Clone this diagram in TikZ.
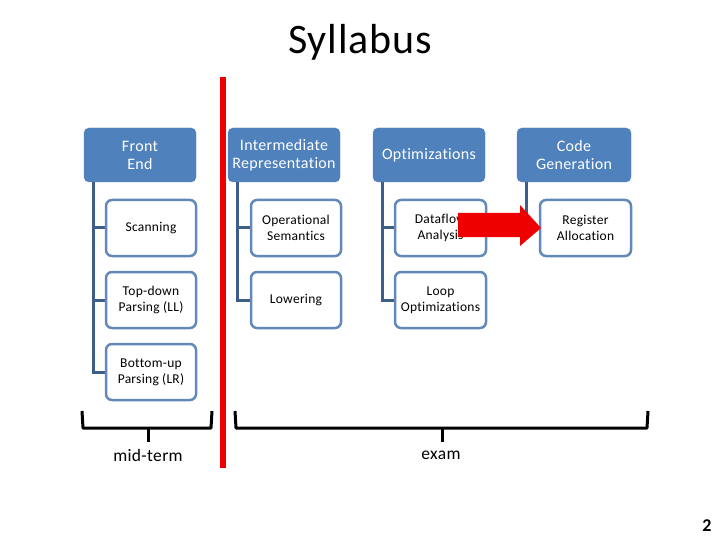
\documentclass[tikz,border=0pt]{standalone}
\usepackage{fontspec}
\setmainfont[Ligatures=NoCommon,LetterSpace=2]{Carlito}
\usetikzlibrary{calc}
\definecolor{hdrblue}{HTML}{4F81BD}
\definecolor{boxedge}{HTML}{6389BA}
\definecolor{linkblue}{HTML}{3E5D8A}
\definecolor{bigred}{HTML}{EE0000}
\tikzset{
  hdr/.style={draw=hdrblue, fill=hdrblue, rounded corners=5pt, minimum width=112pt, minimum height=54pt, text=white, align=center, font=\fontsize{16}{18}\selectfont, inner sep=1pt},
  child/.style={draw=boxedge, fill=white, line width=2.5pt, rounded corners=6pt, minimum width=90pt, minimum height=56pt, align=center, font=\fontsize{13.5}{16}\selectfont, inner sep=1pt},
  link/.style={draw=linkblue, line width=3pt},
  brace/.style={draw=black, line width=3pt},
  lbl/.style={font=\fontsize{17.5}{20}\selectfont}
}
\begin{document}
\begin{tikzpicture}[x=1pt,y=-1pt]
\useasboundingbox (0,0) rectangle (720,540);
\node[font=\fontsize{42}{46}\selectfont] (title) at (360,42) {Syllabus};
% headers
\node[hdr] (fe) at (140,155) {Front\\End};
\node[hdr] (ir) at (284,155) {Intermediate\\Representation};
\node[hdr] (op) at (429,155) {Optimizations};
\node[hdr, minimum width=114pt] (cg) at (574,155) {Code\\Generation};
% connectors
\coordinate (feL) at ($(fe.south west)+(10,0)$);
\coordinate (irL) at ($(ir.south west)+(10,0)$);
\coordinate (opL) at ($(op.south west)+(10,0)$);
\coordinate (cgL) at ($(cg.south west)+(10,0)$);
\coordinate (sca) at (151,228);
\coordinate (tda) at (151,300);
\coordinate (bua) at (151,372);
\coordinate (osa) at (296,228);
\coordinate (lwa) at (296,300);
\coordinate (dfa) at (440.5,228);
\coordinate (lpa) at (440.5,300);
\coordinate (raa) at (585.5,228);
\draw[link] (feL) |- (bua);
\draw[link] (feL) |- (sca);
\draw[link] (feL) |- (tda);
\draw[link] (irL) |- (lwa);
\draw[link] (irL) |- (osa);
\draw[link] (opL) |- (lpa);
\draw[link] (opL) |- (dfa);
\draw[link] (cgL) |- (raa);
% children
\node[child] (sc) at (sca) {Scanning};
\node[child] (td) at (tda) {Top-down\\Parsing (LL)};
\node[child] (bu) at (bua) {Bottom-up\\Parsing (LR)};
\node[child] (os) at (osa) {Operational\\Semantics};
\node[child] (lw) at (lwa) {Lowering};
\node[child, minimum width=91pt] (df) at (dfa) {Dataflow\\Analysis};
\node[child, minimum width=91pt] (lp) at (lpa) {Loop\\Optimizations};
\node[child, minimum width=91pt] (ra) at (raa) {Register\\Allocation};
% red arrow
\fill[bigred] (458,213) -- (520,213) -- (520,205) -- (541,228) -- (520,246) -- (520,237) -- (458,237) -- cycle;
% red divider
\draw[bigred, line width=6pt] (223,77) -- (223,468);
% braces
\draw[brace, line join=round] (82,411) -- (83,428) -- (211,428) -- (212,411);
\draw[brace] (148,428) -- (148,442);
\draw[brace, line join=round] (235,411) -- (236,428) -- (647,428) -- (648,411);
\draw[brace] (442,428) -- (442,442);
\node[lbl] (mt) at (148,455) {mid-term};
\node[lbl] (ex) at (441,455) {exam};
\node[font=\fontsize{18}{20}\selectfont\bfseries] (pg) at (707,526) {2};
\end{tikzpicture}
\end{document}
